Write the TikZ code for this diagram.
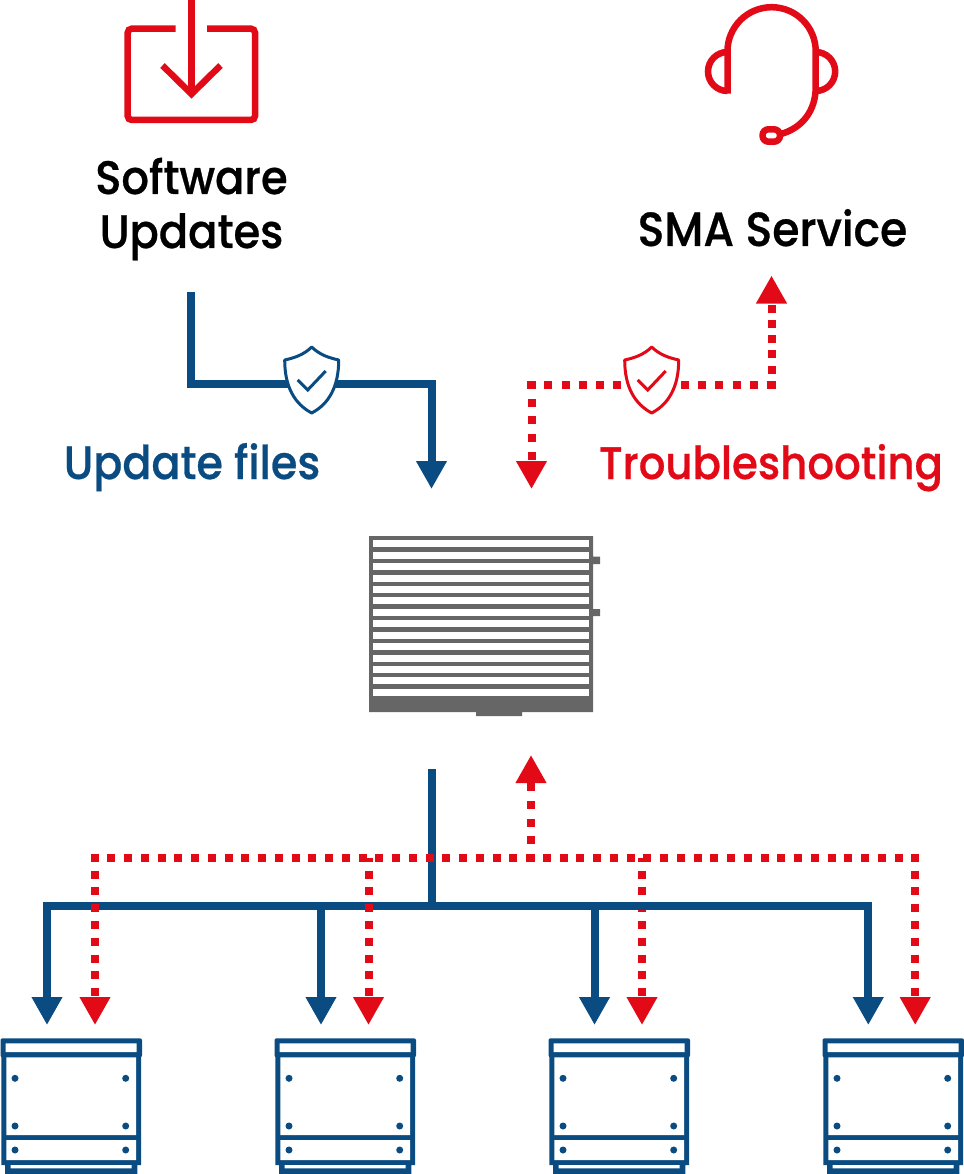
\documentclass[tikz,border=0pt]{standalone}
\usepackage{fontspec}
\setmainfont{Poppins Medium}[FakeStretch=0.92,FakeBold=0.6]
\usetikzlibrary{arrows.meta}
\definecolor{smablue}{HTML}{0A4C82}
\definecolor{smared}{HTML}{E30A18}
\definecolor{ctrlgray}{HTML}{666666}
\tikzset{
  bluearrow/.style={draw=smablue,line width=8pt,-{Triangle[length=28pt,width=29pt]}},
  redline/.style={draw=smared,line width=8pt,dash pattern=on 8pt off 8.75pt},
  redarrow/.style={redline,-{Triangle[length=28pt,width=29pt]}},
  iconline/.style={draw=smared,line width=6.5pt},
  title/.style={font=\fontsize{#1}{54}\selectfont,align=center,inner sep=0pt},
  shield/.pic={
    \path[draw,line width=3pt,fill=white,line join=round] (0,0) .. controls (8,8) and (18,11) .. (27,13)
      .. controls (27,40) and (17,57) .. (0,66) .. controls (-17,57) and (-27,40) .. (-27,13)
      .. controls (-18,11) and (-8,8) .. (0,0) -- cycle;
    \path[draw,line width=3pt] (-14,33) -- (-4,43) -- (14,24);
  },
  device/.pic={
    \path[fill=smablue,rounded corners=2pt] (0.5,1038.3) rectangle (142,1057.3);
    \path[fill=smablue] (1.3,1050) rectangle (141,1165) (5,1165) rectangle (137.3,1174);
    \path[fill=white] (5.7,1043.3) rectangle (136.7,1052) (6.3,1057.3) rectangle (136,1135)
      (6.3,1140) rectangle (136,1160) (10.7,1165) rectangle (131.7,1168.3);
    \foreach \px in {15,125.7} \foreach \py in {1078.3,1126,1150}
      \path[fill=smablue] (\px,\py) circle (3.5pt);
  }
}
\begin{document}
\begin{tikzpicture}[x=1pt,y=-1pt]
  \useasboundingbox (0,0) rectangle (963,1174);

  \node[title=47] (soft) at (191.5,209) {Software\\Updates};
  \node[title=48,anchor=base] (serv) at (772.5,246) {SMA Service};
  \node[title=46.6,anchor=base,text=smablue] (upd) at (192,479) {Update files};
  \node[title=45.5,anchor=base,text=smared] (trbl) at (771,479) {Troubleshooting};

  \coordinate (blueS) at (191,292);
  \coordinate (blueE) at (431.5,489);
  \coordinate (blueC) at (431.5,384);
  \coordinate (redA) at (527.3,385);
  \coordinate (redB) at (775.7,385);
  \coordinate (redC) at (531.5,381);
  \coordinate (redD) at (771.5,389);
  \coordinate (redE1) at (531.5,489);
  \coordinate (redE2) at (771.5,275.5);
  \coordinate (busS) at (431.5,769);
  \coordinate (busM) at (431.5,905.5);
  \coordinate (redT) at (531,755);
  \coordinate (redM) at (531,862);
  \coordinate (busL) at (43,905.5);
  \coordinate (busR) at (872.3,905.5);
  \coordinate (redL) at (90.7,857.7);
  \coordinate (redR) at (919.3,857.7);

  \path[bluearrow] (blueS) |- (blueC) -- (blueE);
  \path[redline,dash pattern=on 8pt off 9.1pt] (redA) -- (redB);
  \path[redarrow,dash pattern=on 8pt off 9.7pt] (redC) -- (redE1);
  \path[redarrow,dash pattern=on 8pt off 7.3pt] (redD) -- (redE2);
  \pic[smablue] (shieldB) at (311.7,347) {shield};
  \pic[smared] (shieldR) at (651.7,347) {shield};

  \path[iconline] (191.5,0) -- (191.5,94);
  \path[iconline] (162.5,65.5) -- (191.5,94) -- (220.5,65.5);
  \path[iconline,rounded corners=4pt] (175.7,28.7) -- (127.7,28.7) -- (127.7,120) -- (255,120) -- (255,28.7) -- (207,28.7);

  \path[iconline] (727.5,93.7) -- (727.5,51.3) arc (-180:0:44.1) -- (815.7,87) .. controls (815.7,111) and (802,128) .. (781,134);
  \path[iconline] (727.5,52) arc (-90:-270:19.5);
  \path[iconline] (815.7,52) arc (-90:90:19.5);
  \path[iconline,rounded corners=6pt] (762.5,129.3) rectangle (780,141.7);

  \fill[ctrlgray] (369,536) rectangle (593,712) (593,556.5) rectangle (600,564) (593,609) rectangle (600,616) (476,712) rectangle (522,716);
  \foreach \i in {0,...,13}
    \fill[white] (373,540.3+11.42*\i) rectangle (589,547.3+11.42*\i);

  \path[bluearrow,-] (busS) -- (busM);
  \path[redarrow,dash pattern=on 8pt off 9.7pt] (redM) -- (redT);
  \path[redline] (redL) -- (redR);
  \coordinate (r548) at (642,1025);
  \coordinate (t548) at (642,857.7);
  \coordinate (r822) at (915.2,1025);
  \coordinate (t822) at (915.2,853.7);
  \path[redarrow,dash pattern=on 8pt off 8.8pt,dash phase=4pt] (t548) -- (r548);
  \path[redarrow,dash pattern=on 8pt off 8.8pt] (t822) -- (r822);
  \path[bluearrow,-] (busL) -- (busR);
  \foreach \dx/\bx in {0/47,274/321,548/594.5,822/868.3} {
    \coordinate (b\dx) at (\bx,1025);
    \coordinate (j\dx) at (\bx,905.5);
    \path[bluearrow] (j\dx) -- (b\dx);
    \pic at (\dx,0) {device};
  }
  \coordinate (r0) at (95,1025);
  \coordinate (t0) at (95,853.7);
  \coordinate (r274) at (368.5,1025);
  \coordinate (t274) at (368.5,857.7);
  \path[redarrow,dash pattern=on 8pt off 8.8pt] (t0) -- (r0);
  \path[redarrow,dash pattern=on 8pt off 8.8pt,dash phase=4pt] (t274) -- (r274);
\end{tikzpicture}
\end{document}
